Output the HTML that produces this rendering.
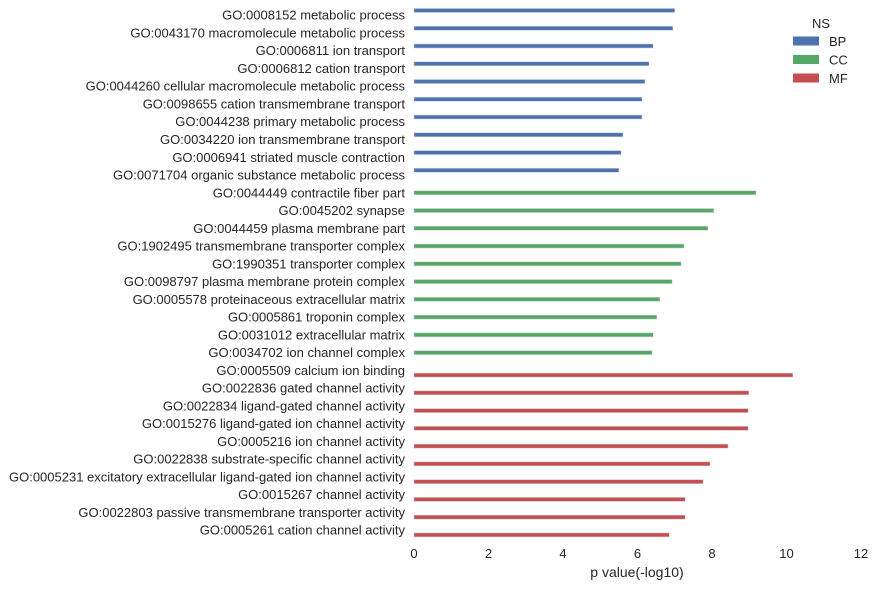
<!DOCTYPE html>
<html><head><meta charset="utf-8"><style>
body{margin:0;background:#fff;font-family:"Liberation Sans",sans-serif}
text{font-family:"Liberation Sans",sans-serif;fill:#262626}
</style></head><body>
<svg id="chart" width="874" height="587" xmlns="http://www.w3.org/2000/svg"></svg>
<script>
const categories=["GO:0008152 metabolic process","GO:0043170 macromolecule metabolic process","GO:0006811 ion transport","GO:0006812 cation transport","GO:0044260 cellular macromolecule metabolic process","GO:0098655 cation transmembrane transport","GO:0044238 primary metabolic process","GO:0034220 ion transmembrane transport","GO:0006941 striated muscle contraction","GO:0071704 organic substance metabolic process","GO:0044449 contractile fiber part","GO:0045202 synapse","GO:0044459 plasma membrane part","GO:1902495 transmembrane transporter complex","GO:1990351 transporter complex","GO:0098797 plasma membrane protein complex","GO:0005578 proteinaceous extracellular matrix","GO:0005861 troponin complex","GO:0031012 extracellular matrix","GO:0034702 ion channel complex","GO:0005509 calcium ion binding","GO:0022836 gated channel activity","GO:0022834 ligand-gated channel activity","GO:0015276 ligand-gated ion channel activity","GO:0005216 ion channel activity","GO:0022838 substrate-specific channel activity","GO:0005231 excitatory extracellular ligand-gated ion channel activity","GO:0015267 channel activity","GO:0022803 passive transmembrane transporter activity","GO:0005261 cation channel activity"];
const groups=["BP","BP","BP","BP","BP","BP","BP","BP","BP","BP","CC","CC","CC","CC","CC","CC","CC","CC","CC","CC","MF","MF","MF","MF","MF","MF","MF","MF","MF","MF"];
const values=[7.0,6.95,6.42,6.31,6.2,6.12,6.12,5.61,5.56,5.5,9.18,8.05,7.89,7.25,7.17,6.93,6.6,6.52,6.42,6.39,10.17,8.99,8.97,8.97,8.43,7.95,7.76,7.28,7.28,6.85];
const hues=["BP","CC","MF"];
const xTicks=[0,2,4,6,8,10,12];
const colors={BP:"#4c72b0",CC:"#55a868",MF:"#c44e52"};
const svg=document.getElementById('chart');
const NS="http://www.w3.org/2000/svg";
const x0=414,x1=861,xmin=0,xmax=12,yTop=6.3,band=17.76;
const xs=v=>x0+(v-xmin)/(xmax-xmin)*(x1-x0);
const yc=i=>yTop+band*(i+0.5);
function el(t,a){const e=document.createElementNS(NS,t);for(const k in a)e.setAttribute(k,a[k]);svg.appendChild(e);return e;}
categories.forEach((c,i)=>{
  const h=hues.indexOf(groups[i]);
  const cy=yc(i)+(h-1)*4.7;
  const r=el('rect',{x:xs(0),y:cy-2,width:xs(values[i])-xs(0),height:4,fill:colors[groups[i]],stroke:"#d0d0d0","stroke-width":0.5});
  
  
  const t=el('text',{x:405,y:yc(i)+4.5,"text-anchor":"end","font-size":13});
  t.textContent=c;
  
  
});
xTicks.forEach(v=>{
  const t=el('text',{x:xs(v),y:558,"text-anchor":"middle","font-size":13});
  t.textContent=v;
  
  
});
const xt=el('text',{x:637,y:577,"text-anchor":"middle","font-size":14});
xt.textContent="p value(-log10)";


const lt=el('text',{x:821,y:28,"text-anchor":"middle","font-size":13});
lt.textContent="NS";


hues.forEach((h,k)=>{
  const y=41+k*18.5;
  const r=el('rect',{x:793,y:y-4.5,width:26,height:9,fill:colors[h]});
  
  
  const t=el('text',{x:829,y:y+5,"font-size":13});
  t.textContent=h;
  
  
});
</script>
</body></html>
